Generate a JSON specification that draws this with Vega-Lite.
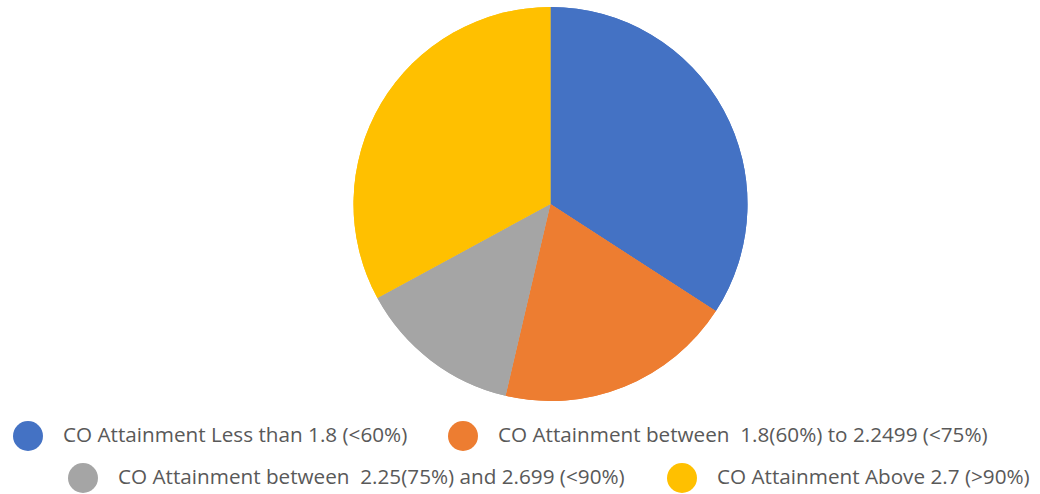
{
  "$schema": "https://vega.github.io/schema/vega-lite/v6.json",
  "autosize": "none",
  "width": 979,
  "height": 394,
  "padding": {"left": 61, "top": 7, "right": 0, "bottom": 93},
  "background": "white",
  "data": {
    "values": [
      {"idx": 1, "category": "CO Attainment Less than 1.8 (<60%)", "count": 28},
      {"idx": 2, "category": "CO Attainment between\u00a0 1.8(60%) to 2.2499 (<75%)", "count": 16},
      {"idx": 3, "category": "CO Attainment between\u00a0 2.25(75%) and 2.699 (<90%)", "count": 11},
      {"idx": 4, "category": "CO Attainment Above 2.7 (>90%)", "count": 27}
    ]
  },
  "encoding": {
    "theta": {"field": "count", "type": "quantitative", "stack": true},
    "order": {"field": "idx", "type": "quantitative"}
  },
  "layer": [
    {
      "mark": {"type": "arc"},
      "encoding": {
        "color": {
          "field": "category",
          "type": "nominal",
          "scale": {
            "domain": ["CO Attainment Less than 1.8 (<60%)", "CO Attainment between\u00a0 1.8(60%) to 2.2499 (<75%)", "CO Attainment between\u00a0 2.25(75%) and 2.699 (<90%)", "CO Attainment Above 2.7 (>90%)"],
            "range": ["#4472C4", "#ED7D31", "#A5A5A5", "#FFC000"]
          },
          "legend": {
            "values": ["CO Attainment Less than 1.8 (<60%)", "CO Attainment between\u00a0 1.8(60%) to 2.2499 (<75%)"],
            "orient": "none",
            "legendX": -48,
            "legendY": 414,
            "direction": "horizontal",
            "columnPadding": 40
          }
        }
      }
    },
    {
      "mark": {"type": "arc"},
      "encoding": {
        "fill": {
          "field": "category",
          "type": "nominal",
          "scale": {
            "domain": ["CO Attainment between\u00a0 2.25(75%) and 2.699 (<90%)", "CO Attainment Above 2.7 (>90%)", "CO Attainment Less than 1.8 (<60%)", "CO Attainment between\u00a0 1.8(60%) to 2.2499 (<75%)"],
            "range": ["#A5A5A5", "#FFC000", "#4472C4", "#ED7D31"]
          },
          "legend": {
            "values": ["CO Attainment between\u00a0 2.25(75%) and 2.699 (<90%)", "CO Attainment Above 2.7 (>90%)"],
            "orient": "none",
            "legendX": 7,
            "legendY": 456,
            "direction": "horizontal",
            "columnPadding": 42
          }
        }
      }
    }
  ],
  "config": {
    "view": {"stroke": null},
    "legend": {
      "title": null,
      "labelFont": "Open Sans",
      "labelFontSize": 20.7,
      "labelColor": "#595959",
      "labelLimit": 1000,
      "labelOffset": 20,
      "symbolType": "circle",
      "symbolSize": 900,
      "symbolStrokeWidth": 0,
      "symbolOpacity": 1
    }
  }
}
